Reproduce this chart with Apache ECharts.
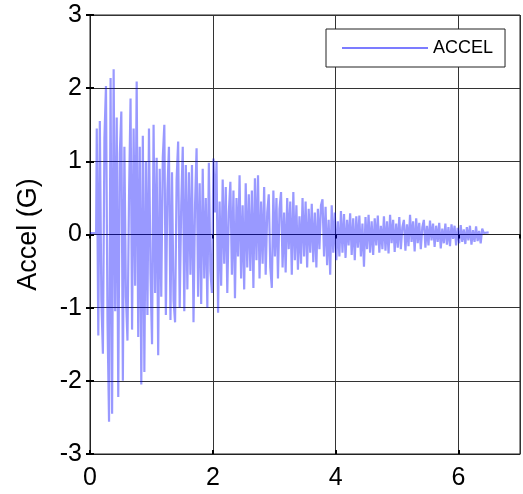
<!DOCTYPE html>
<html>
<head>
<meta charset="utf-8">
<script src="https://cdn.jsdelivr.net/npm/echarts@6/dist/echarts.min.js"></script>
<style>
html,body{margin:0;padding:0;background:#fff}
#chart{width:523px;height:494px}
</style>
</head>
<body>
<div id="chart"></div>
<script>
var seriesName = 'ACCEL'
var yName = 'Accel (G)'
// sample times: accel[i] is at startT + i*stepT (s)
var startT = 0.11
var stepT = 0.025
// flat part before the shaking starts and after it ends
var leadIn = [[0, 0.02], [0.1, 0.02]]
var tail = [[6.43, 0.03], [6.49, 0.03]]
// acceleration (G), 20 samples per half second
var accel = [
  1.45, -1.38, 1.55, -0.9, -1.63, 1.32, 2.03, -1.2, -2.56, 2.14, -2.45, 2.26, -1.05, 1.6, -2.22, 1.1, 1.68, -2.0, 1.2, -0.85,
  -1.45, 0.5, 1.86, -1.3, 1.45, -0.7, 2.09, -1.4, 1.2, -2.05, 1.35, -1.88, 1.0, -1.1, 1.45, -0.55, -1.5, 1.5, -0.8, 1.05,
  -1.65, 0.9, -0.85, 1.05, 1.5, -1.1, 0.6, 1.2, -1.17, 0.85, -0.9, -1.2, 0.75, 1.27, -1.0, 0.4, 1.2, -1.05, 0.95, -0.75,
  0.85, -0.55, 0.95, -1.2, 0.4, 1.18, -0.85, 0.7, -0.95, 0.9, -0.6, 0.5, -1.0, 0.98, -0.5, -0.8, 1.04, 0.3, 1.0, -1.07,
  0.45, -0.7, 0.75, -0.4, 0.65, -0.8, 0.3, 0.72, -0.55, 0.6, -0.87, 0.5, -0.3, 0.81, -0.6, 0.4, -0.75, 0.7, -0.45, 0.55,
  -0.5, 0.6, -0.73, 0.77, -0.35, 0.81, -0.6, 0.45, -0.4, 0.65, -0.55, 0.3, 0.55, -0.45, -0.73, 0.6, -0.3, 0.5, -0.6, 0.35,
  0.58, -0.45, 0.3, -0.52, 0.5, -0.2, 0.45, -0.55, 0.58, -0.35, 0.4, -0.48, 0.25, -0.4, 0.5, -0.3, 0.45, -0.45, 0.35, -0.25,
  0.42, -0.38, 0.3, -0.45, 0.35, -0.2, 0.4, 0.48, -0.3, 0.38, -0.42, 0.2, -0.55, 0.4, -0.25, 0.3, -0.35, 0.18, -0.3, 0.32,
  -0.25, 0.28, -0.32, 0.2, -0.15, 0.29, -0.28, 0.22, -0.35, 0.25, -0.18, 0.26, -0.3, 0.15, -0.44, 0.24, -0.2, 0.27, -0.25, 0.18,
  -0.28, 0.22, -0.15, 0.26, -0.25, 0.12, -0.2, 0.25, -0.22, 0.18, -0.26, 0.27, -0.12, 0.2, -0.24, 0.15, -0.18, 0.24, -0.2, 0.1,
  0.2, -0.22, 0.14, -0.16, 0.27, -0.1, 0.18, -0.23, 0.22, -0.12, 0.16, -0.2, 0.1, 0.2, -0.18, 0.12, -0.15, 0.19, -0.08, 0.15,
  -0.17, 0.12, -0.1, 0.16, -0.19, 0.08, -0.12, 0.15, -0.14, 0.1, -0.16, 0.14, -0.06, 0.12, -0.15, 0.09, -0.12, 0.13, -0.1, 0.07,
  -0.13, 0.1, -0.08, 0.12, -0.14, 0.06, -0.1, 0.11, -0.09, 0.05, -0.12, 0.08, 0.02
]

var points = leadIn.slice()
accel.forEach(function (v, i) {
  points.push([+(startT + i * stepT).toFixed(3), v])
})
tail.forEach(function (p) { points.push(p) })

var font = 'Liberation Sans, Arial, sans-serif'
var tickStyle = {show: true, inside: true, length: 4, lineStyle: {color: '#000', width: 2}}

var echart = echarts.init(document.getElementById('chart'))
var options = {
  animation: false,
  grid: {left: 90, right: 3, top: 15, bottom: 40, show: true, borderColor: '#222', borderWidth: 1},
  legend: {
    left: 326, top: 29,
    padding: [10, 12, 10, 16],
    borderColor: '#222', borderWidth: 1, backgroundColor: '#fff',
    itemWidth: 86, itemHeight: 1.5,
    textStyle: {fontFamily: font, fontSize: 18, color: '#000'},
    data: [{name: seriesName, icon: 'rect', itemStyle: {color: '#5050ff'}}]
  },
  xAxis: [{
    type: 'value', min: 0, max: 7, interval: 2,
    axisLine: {show: true, onZero: false, lineStyle: {color: '#222'}},
    axisTick: tickStyle,
    axisLabel: {fontFamily: font, fontSize: 25, color: '#000', margin: 12, showMaxLabel: false},
    splitLine: {show: true, lineStyle: {color: '#333', width: 1}}
  }, {
    type: 'value', position: 'top', min: 0, max: 7, interval: 2,
    axisLine: {show: true, lineStyle: {color: '#222'}},
    axisTick: tickStyle, axisLabel: {show: false}, splitLine: {show: false}
  }],
  yAxis: [{
    type: 'value', min: -3, max: 3, interval: 1,
    name: yName, nameLocation: 'middle', nameGap: 48, nameRotate: 90,
    nameTextStyle: {fontFamily: font, fontSize: 27, color: '#000'},
    axisLine: {show: true, lineStyle: {color: '#222'}},
    axisTick: tickStyle,
    axisLabel: {fontFamily: font, fontSize: 25, color: '#000', margin: 8},
    splitLine: {show: true, lineStyle: {color: '#333', width: 1}}
  }, {
    type: 'value', position: 'right', min: -3, max: 3, interval: 1,
    axisLine: {show: true, lineStyle: {color: '#222'}},
    axisTick: tickStyle, axisLabel: {show: false}, splitLine: {show: false}
  }],
  series: [{
    name: seriesName, type: 'line', data: points,
    xAxisIndex: 0, yAxisIndex: 0,
    showSymbol: false, symbol: 'none',
    lineStyle: {color: '#0000ff', width: 2.2, opacity: 0.4},
    itemStyle: {color: '#0000ff'}
  }]
}
echart.setOption(options)
</script>
</body>
</html>
